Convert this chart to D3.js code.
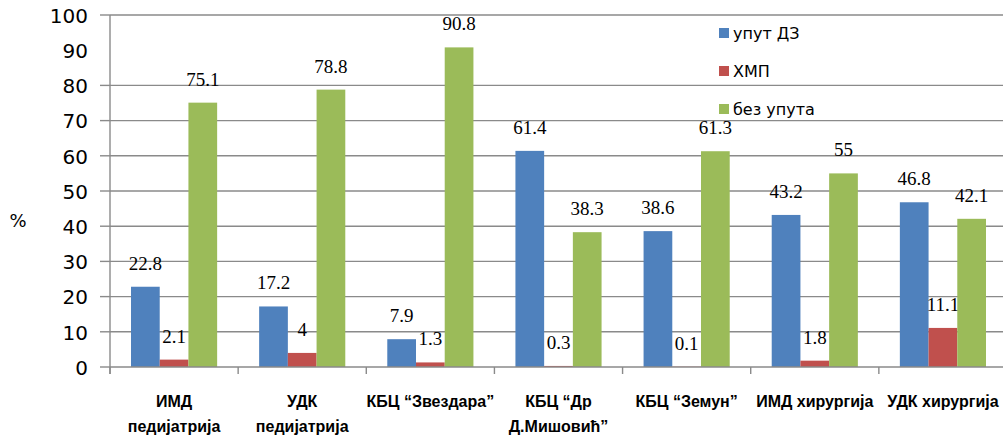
<!DOCTYPE html>
<html><head><meta charset="utf-8">
<script src="https://cdn.jsdelivr.net/npm/d3@7"></script>
<style>body{margin:0;background:#fff}svg{display:block}</style>
</head><body>
<svg id="chart" width="1003" height="435"></svg>
<script>
const categories = [
  ["ИМД", "педијатрија"],
  ["УДК", "педијатрија"],
  ["КБЦ “Звездара”"],
  ["КБЦ “Др", "Д.Мишовић”"],
  ["КБЦ “Земун”"],
  ["ИМД хирургија"],
  ["УДК хирургија"]
];
const seriesNames = ["упут ДЗ", "ХМП", "без упута"];
const uputDZ = [22.8, 17.2, 7.9, 61.4, 38.6, 43.2, 46.8];
const hmp = [2.1, 4, 1.3, 0.3, 0.1, 1.8, 11.1];
const bezUputa = [75.1, 78.8, 90.8, 38.3, 61.3, 55, 42.1];
const yTicks = [0, 10, 20, 30, 40, 50, 60, 70, 80, 90, 100];
const gridTicks = [0, 10, 20, 30, 40, 50, 60, 70, 80, 100];
const colors = ["#4F81BD", "#C0504D", "#9BBB59"];

(function () {
const svg = d3.select("#chart");
const pL = 110, pR = 1007, pT = 15, pB = 367;
const x = d3.scaleBand().domain(d3.range(categories.length)).range([pL, pR]).paddingInner(0).paddingOuter(0);
const y = d3.scaleLinear().domain([0, 100]).range([pB, pT]);
const inner = d3.scaleBand().domain([0, 1, 2]).range([21, x.bandwidth() - 21]);

// gridlines
svg.append("g").selectAll("line").data(gridTicks.filter(d => d > 0)).join("line")
  .attr("x1", pL).attr("x2", pR).attr("y1", d => y(d)).attr("y2", d => y(d))
  .attr("stroke", "#8a8a8a").attr("stroke-width", 1.4);

// bars
const series = [uputDZ, hmp, bezUputa];
series.forEach((vals, si) => {
  svg.append("g").selectAll("rect").data(vals).join("rect")
    .attr("x", (d, i) => x(i) + inner(si))
    .attr("width", inner.bandwidth())
    .attr("y", d => y(d))
    .attr("height", d => pB - y(d))
    .attr("fill", colors[si]);
  svg.append("g").selectAll("text").data(vals).join("text")
    .attr("x", (d, i) => x(i) + inner(si) + inner.bandwidth() / 2)
    .attr("y", d => y(d) - 17)
    .attr("text-anchor", "middle")
    .attr("font-family", "Liberation Serif")
    .attr("font-size", 19)
    .attr("fill", "#000")
    .text(d => String(d));
});

// y axis
const yAxis = svg.append("g").attr("transform", `translate(${pL},0)`)
  .call(d3.axisLeft(y).tickValues(yTicks).tickSize(0).tickPadding(22).tickFormat(d3.format("d")));
yAxis.select(".domain").remove();
yAxis.selectAll("text").attr("font-family", "DejaVu Sans").attr("font-size", 20).attr("fill", "#000").attr("dy", "0.36em");
svg.append("g").selectAll("line").data(gridTicks).join("line")
  .attr("x1", pL - 10).attr("x2", pL).attr("y1", d => y(d)).attr("y2", d => y(d))
  .attr("stroke", "#8a8a8a").attr("stroke-width", 1.4);
svg.append("line").attr("x1", pL).attr("x2", pL).attr("y1", pT).attr("y2", pB + 7)
  .attr("stroke", "#8a8a8a").attr("stroke-width", 1.4);

// x axis
svg.append("line").attr("x1", pL).attr("x2", pR).attr("y1", pB).attr("y2", pB)
  .attr("stroke", "#8a8a8a").attr("stroke-width", 1.6);
svg.append("g").selectAll("line").data(d3.range(categories.length + 1)).join("line")
  .attr("x1", i => pL + i * x.bandwidth()).attr("x2", i => pL + i * x.bandwidth())
  .attr("y1", pB).attr("y2", pB + 7)
  .attr("stroke", "#8a8a8a").attr("stroke-width", 1.4);
const xl = svg.append("g").selectAll("text").data(categories).join("text")
  .attr("x", (d, i) => x(i) + x.bandwidth() / 2)
  .attr("y", 407)
  .attr("text-anchor", "middle")
  .attr("font-family", "Liberation Sans")
  .attr("font-weight", "bold")
  .attr("font-size", 16)
  .attr("fill", "#000");
xl.selectAll("tspan").data(d => d).join("tspan")
  .attr("x", function() { return this.parentNode.getAttribute("x"); })
  .attr("dy", (d, j) => j === 0 ? 0 : 25)
  .text(d => d);

// y label
svg.append("text").attr("x", 18).attr("y", 227).attr("text-anchor", "middle")
  .attr("font-family", "DejaVu Sans").attr("font-size", 18).attr("fill", "#000").text("%");

// legend
const lg = svg.append("g").selectAll("g").data(seriesNames).join("g")
  .attr("transform", (d, i) => `translate(719, ${33 + i * 38})`);
lg.append("rect").attr("x", 0).attr("y", -5).attr("width", 10).attr("height", 10).attr("fill", (d, i) => colors[i]);
lg.append("text").attr("x", 14).attr("y", 6).attr("font-family", "DejaVu Sans").attr("font-size", 16)
  .attr("fill", "#000").text(d => d);
})();
</script>
</body></html>
